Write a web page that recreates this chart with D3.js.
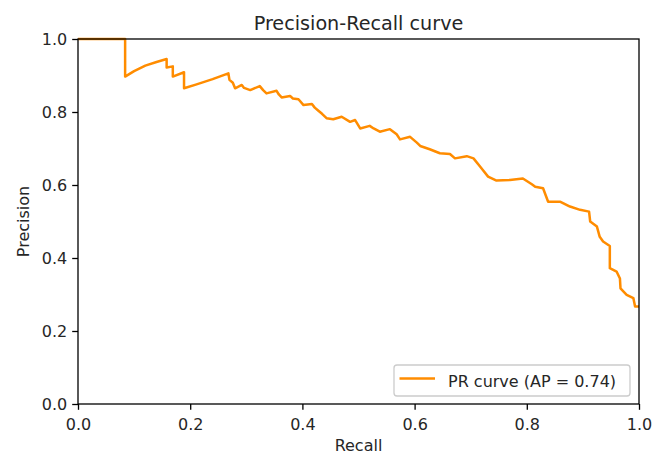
<!DOCTYPE html>
<html>
<head>
<meta charset="utf-8">
<script src="https://cdn.jsdelivr.net/npm/d3@7"></script>
<style>
  html, body { margin: 0; padding: 0; background: #fff; }
  svg { display: block; }
  text { font-family: "DejaVu Sans", sans-serif; fill: #262626; }
</style>
</head>
<body>
<svg id="chart" width="653" height="456"></svg>
<script>
const recall = [0.000,0.084,0.084,0.100,0.120,0.140,0.158,0.158,0.169,0.169,0.189,0.189,0.210,0.240,0.268,0.270,0.276,0.280,0.292,0.296,0.307,0.324,0.330,0.336,0.354,0.358,0.363,0.378,0.383,0.393,0.402,0.417,0.422,0.428,0.435,0.443,0.455,0.470,0.485,0.494,0.503,0.520,0.527,0.538,0.556,0.568,0.574,0.592,0.604,0.610,0.627,0.645,0.663,0.672,0.693,0.705,0.717,0.731,0.746,0.770,0.793,0.809,0.815,0.829,0.838,0.860,0.877,0.895,0.911,0.913,0.925,0.930,0.936,0.948,0.948,0.960,0.966,0.967,0.978,0.990,0.993,1.000];
const precision = [1.000,1.000,0.897,0.912,0.927,0.937,0.945,0.922,0.925,0.897,0.909,0.865,0.875,0.890,0.906,0.888,0.880,0.865,0.874,0.866,0.860,0.871,0.860,0.851,0.858,0.848,0.840,0.844,0.837,0.835,0.819,0.822,0.812,0.804,0.795,0.783,0.780,0.787,0.773,0.778,0.755,0.762,0.755,0.746,0.753,0.739,0.725,0.732,0.716,0.707,0.698,0.687,0.685,0.673,0.679,0.673,0.650,0.623,0.612,0.614,0.618,0.602,0.595,0.591,0.554,0.554,0.541,0.532,0.527,0.500,0.486,0.458,0.445,0.433,0.372,0.363,0.344,0.317,0.299,0.290,0.267,0.267];
const xTicks = [0.0,0.2,0.4,0.6,0.8,1.0];
const yTicks = [0.0,0.2,0.4,0.6,0.8,1.0];
const titleText = "Precision-Recall curve";
const xLabel = "Recall";
const yLabel = "Precision";
const legendLabel = "PR curve (AP = 0.74)";

const svg = d3.select("#chart");
const L = 78, R = 639, T = 39, B = 404;
const x = d3.scaleLinear().domain([0,1]).range([L,R]);
const y = d3.scaleLinear().domain([0,1]).range([B,T]);
const fs = 16;

// curve
const pts = recall.map((r,i)=>[r,precision[i]]);
svg.append("path")
  .datum(pts)
  .attr("fill","none")
  .attr("stroke","#ff8c00")
  .attr("stroke-width",2.5)
  .attr("stroke-linejoin","round")
  .attr("d", d3.line().x(d=>x(d[0])).y(d=>y(d[1])));

// axes
const xAxis = d3.axisBottom(x).tickValues(xTicks).tickFormat(d3.format(".1f")).tickSize(5.8).tickPadding(5);
const yAxis = d3.axisLeft(y).tickValues(yTicks).tickFormat(d3.format(".1f")).tickSize(5.8).tickPadding(5);
const gx = svg.append("g").attr("transform",`translate(0,${B})`).call(xAxis);
const gy = svg.append("g").attr("transform",`translate(${L},0)`).call(yAxis);
[gx,gy].forEach(g=>{
  g.select(".domain").remove();
  g.selectAll(".tick line").attr("stroke","#000").attr("stroke-width",1.3);
  g.selectAll(".tick text").attr("font-size",fs).attr("font-family","DejaVu Sans").attr("fill","#262626");
});
gx.selectAll(".tick text").attr("dy","0.95em");
gy.selectAll(".tick text").attr("dy","0.36em");

// frame
svg.append("rect").attr("x",L).attr("y",T).attr("width",R-L).attr("height",B-T)
  .attr("fill","none").attr("stroke","#000").attr("stroke-width",1.3);

// title and labels
svg.append("text").attr("x",(L+R)/2).attr("y",30).attr("text-anchor","middle").attr("font-size",19.2).text(titleText);
svg.append("text").attr("x",(L+R)/2).attr("y",451).attr("text-anchor","middle").attr("font-size",fs).text(xLabel);
svg.append("text").attr("transform",`translate(29,${(T+B)/2}) rotate(-90)`).attr("text-anchor","middle").attr("font-size",fs).text(yLabel);

// legend
const lg = svg.append("g");
lg.append("rect").attr("x",394).attr("y",365).attr("width",236).attr("height",31).attr("rx",3)
  .attr("fill","#fff").attr("fill-opacity",0.8).attr("stroke","#cccccc").attr("stroke-width",1.3);
lg.append("line").attr("x1",399.5).attr("x2",435).attr("y1",378.5).attr("y2",378.5)
  .attr("stroke","#ff8c00").attr("stroke-width",2.5);
lg.append("text").attr("x",448).attr("y",386.5).attr("font-size",fs).text(legendLabel);
</script>
</body>
</html>
